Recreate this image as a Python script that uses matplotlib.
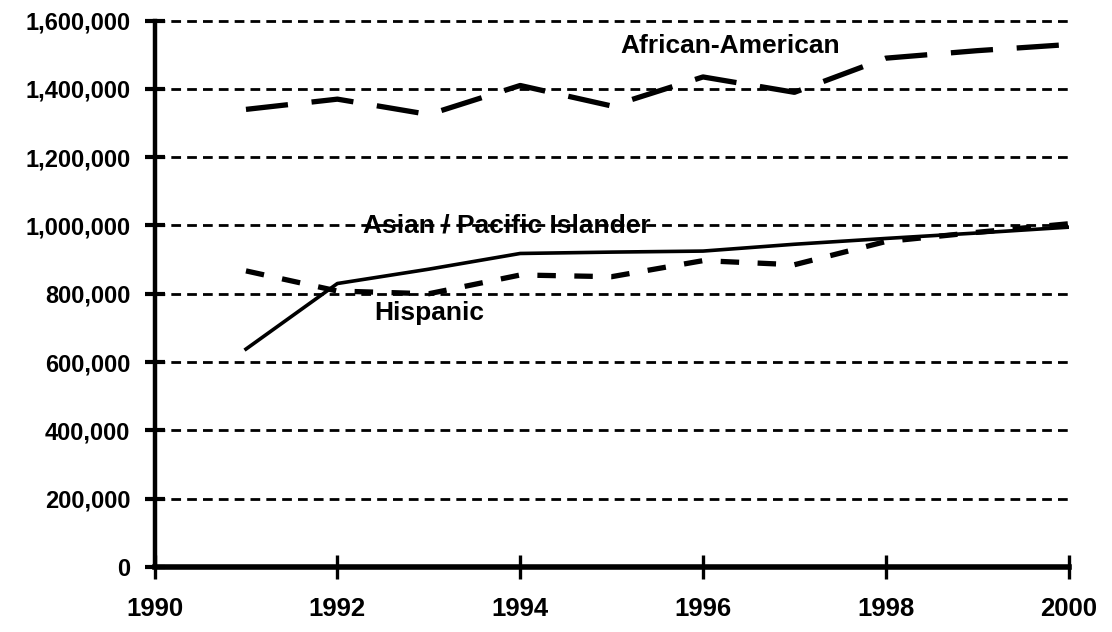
import matplotlib
matplotlib.use('Agg')
from matplotlib import pyplot as plt
from matplotlib.ticker import FuncFormatter

# values
years = [1991, 1992, 1993, 1994, 1995, 1996, 1997, 1998, 1999, 2000]
african_american = [1340000, 1370000, 1325000, 1410000, 1350000,
                    1435000, 1390000, 1490000, 1512000, 1530000]
asian_pacific = [638000, 830000, 872000, 918000, 922000,
                 925000, 945000, 962000, 978000, 995000]
hispanic = [867000, 808000, 800000, 855000, 850000,
            897000, 885000, 953000, 980000, 1005000]

x_ticks = [1990, 1992, 1994, 1996, 1998, 2000]
y_ticks = [0, 200000, 400000, 600000, 800000, 1000000, 1200000, 1400000, 1600000]

plt.rcParams['font.family'] = ['Liberation Sans', 'DejaVu Sans']
plt.rcParams['font.weight'] = 'bold'

fig = plt.figure(figsize=(11.12, 6.32), dpi=100)
ax = fig.add_axes([0.139, 0.103, 0.822, 0.866])

# series
ax.plot(years, african_american, color='black', lw=3.8,
        linestyle=(0, (8, 4.5)))
ax.plot(years, asian_pacific, color='black', lw=2.6, linestyle='-')
ax.plot(years, hispanic, color='black', lw=3.8,
        linestyle=(0, (3.5, 3.5)))

# line labels
ax.text(1996.3, 1525000, 'African-American', fontsize=19, fontweight='bold',
        ha='center', va='center')
ax.text(1993.85, 1000000, 'Asian / Pacific Islander', fontsize=19,
        fontweight='bold', ha='center', va='center')
ax.text(1993.0, 745000, 'Hispanic', fontsize=19, fontweight='bold',
        ha='center', va='center')

ax.set_xlim(1990, 2000)
ax.set_ylim(0, 1603000)
ax.set_xticks(x_ticks)
ax.set_yticks(y_ticks)
ax.yaxis.set_major_formatter(FuncFormatter(lambda v, p: '{:,.0f}'.format(v)))

# dashed horizontal grid
ax.yaxis.grid(True, color='black', lw=2.0, linestyle=(0, (3.5, 2.2)))
ax.set_axisbelow(True)

for s in ['top', 'right']:
        ax.spines[s].set_visible(False)
ax.spines['left'].set_linewidth(3.2)
ax.spines['left'].set_bounds(0, 1600000)
ax.spines['bottom'].set_linewidth(4)

ax.tick_params(axis='y', direction='inout', length=15, width=3, pad=10,
               labelsize=17)
ax.tick_params(axis='x', direction='inout', length=17, width=2.4, pad=13,
               labelsize=18.5)
for lab in ax.get_xticklabels() + ax.get_yticklabels():
        lab.set_fontweight('bold')

fig.savefig('out.png', dpi=100)
